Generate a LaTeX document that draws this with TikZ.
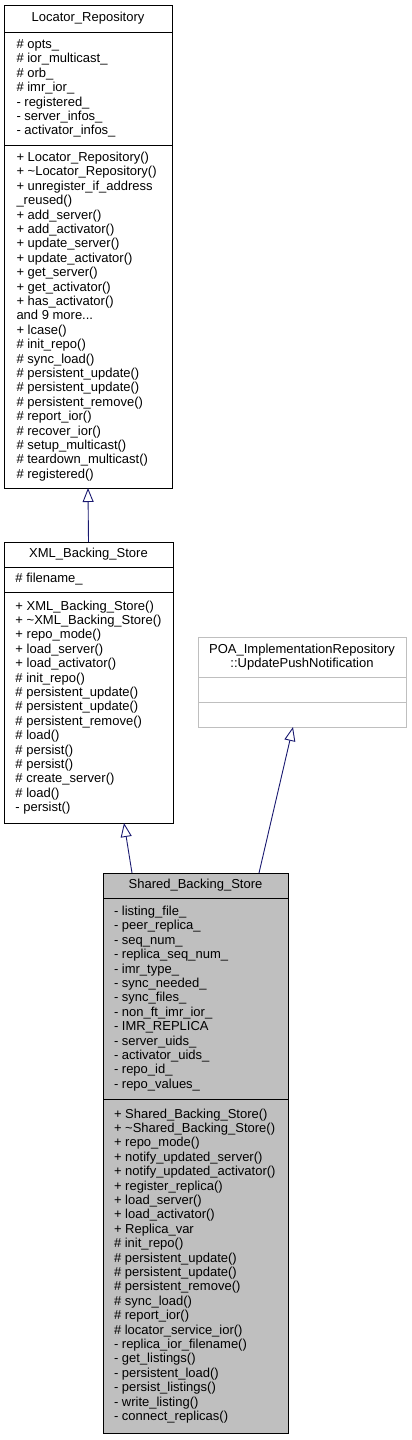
\documentclass[tikz,border=0pt]{standalone}
\usepackage{fontspec}
\setmainfont{Liberation Sans}
\usetikzlibrary{positioning,arrows.meta}
\definecolor{edgeblue}{HTML}{191970}
\definecolor{grey75}{HTML}{BFBFBF}

\begin{document}
\begin{tikzpicture}[
x=1pt,
y=-1pt,
part/.style={
  draw=black,
  rectangle,
  line width=1pt,
  outer sep=0pt,
  inner ysep=0pt,
  align=flush left,
  font=\fontsize{13}{14.4}\selectfont
  },
title/.style={
  part,
  inner xsep=0pt,
  align=center
  },
main/.style={
  fill=grey75
  },
faded/.style={
  draw=grey75
  },
inherit/.style={
  draw=edgeblue,
  line width=0.9pt,
  -{Triangle[open,length=14pt,width=11pt]}
  }
]
\useasboundingbox (0,0) rectangle (412,1440);
% Locator_Repository
\node[title, minimum width=168pt, minimum height=27pt, anchor=north west] (loc-t) at (4,5) {Locator\_Repository};
\node[part, inner xsep=12.5pt, text width=143pt, minimum height=113pt, below=0pt of loc-t] (loc-a)
{\# opts\_\\ \# ior\_multicast\_\\ \# orb\_\\ \# imr\_ior\_\\ - registered\_\\ - server\_infos\_\\ - activator\_infos\_};
\node[part, inner xsep=12.5pt, text width=143pt, minimum height=343pt, below=0pt of loc-a] (loc-m)
{+ Locator\_Repository()\\ + \textasciitilde Locator\_Repository()\\ + unregister\_if\_address\\ \_reused()\\
 + add\_server()\\ + add\_activator()\\ + update\_server()\\ + update\_activator()\\ + get\_server()\\
 + get\_activator()\\ + has\_activator()\\ and 9 more...\\ + lcase()\\ \# init\_repo()\\ \# sync\_load()\\
 \# persistent\_update()\\ \# persistent\_update()\\ \# persistent\_remove()\\ \# report\_ior()\\
 \# recover\_ior()\\ \# setup\_multicast()\\ \# teardown\_multicast()\\ \# registered()};
% XML_Backing_Store
\node[title, minimum width=169pt, minimum height=25pt, anchor=north west] (xml-t) at (4,542) {XML\_Backing\_Store};
\node[part, inner xsep=11.5pt, text width=146pt, minimum height=25pt, below=0pt of xml-t] (xml-a) {\# filename\_};
\node[part, inner xsep=11.5pt, text width=146pt, minimum height=231pt, below=0pt of xml-a] (xml-m)
{+ XML\_Backing\_Store()\\ + \textasciitilde XML\_Backing\_Store()\\ + repo\_mode()\\ + load\_server()\\
 + load\_activator()\\ \# init\_repo()\\ \# persistent\_update()\\ \# persistent\_update()\\
 \# persistent\_remove()\\ \# load()\\ \# persist()\\ \# persist()\\ \# create\_server()\\ \# load()\\ - persist()};
% POA_ImplementationRepository::UpdatePushNotification
\node[title, faded, minimum width=208pt, minimum height=40pt, anchor=north west] (poa-t) at (198,637)
{POA\_ImplementationRepository\\ ::UpdatePushNotification};
\node[part, faded, inner xsep=0pt, minimum width=208pt, minimum height=25pt, below=0pt of poa-t] (poa-a) {};
\node[part, faded, inner xsep=0pt, minimum width=208pt, minimum height=25pt, below=0pt of poa-a] (poa-m) {};
% Shared_Backing_Store
\node[title, main, minimum width=185pt, minimum height=25pt, anchor=north west] (sbs-t) at (103,873) {Shared\_Backing\_Store};
\node[part, main, inner xsep=11pt, text width=163pt, minimum height=201pt, below=0pt of sbs-t] (sbs-a)
{- listing\_file\_\\ - peer\_replica\_\\ - seq\_num\_\\ - replica\_seq\_num\_\\ - imr\_type\_\\ - sync\_needed\_\\
 - sync\_files\_\\ - non\_ft\_imr\_ior\_\\ - IMR\_REPLICA\\ - server\_uids\_\\ - activator\_uids\_\\ - repo\_id\_\\ - repo\_values\_};
\node[part, main, inner xsep=11pt, text width=163pt, minimum height=334pt, below=0pt of sbs-a] (sbs-m)
{+ Shared\_Backing\_Store()\\ + \textasciitilde Shared\_Backing\_Store()\\ + repo\_mode()\\ + notify\_updated\_server()\\
 + notify\_updated\_activator()\\ + register\_replica()\\ + load\_server()\\ + load\_activator()\\ + Replica\_var\\
 \# init\_repo()\\ \# persistent\_update()\\ \# persistent\_update()\\ \# persistent\_remove()\\ \# sync\_load()\\
 \# report\_ior()\\ \# locator\_service\_ior()\\ - replica\_ior\_filename()\\ - get\_listings()\\ - persistent\_load()\\
 - persist\_listings()\\ - write\_listing()\\ - connect\_replicas()};
% generalisations
\draw[inherit] (xml-t.north) -- (loc-m.south);
\draw[inherit] ([xshift=-63.5pt]sbs-t.north) -- ([xshift=35.5pt]xml-m.south);
\draw[inherit] ([xshift=63.5pt]sbs-t.north) -- ([xshift=-9pt]poa-m.south);
\end{tikzpicture}
\end{document}
